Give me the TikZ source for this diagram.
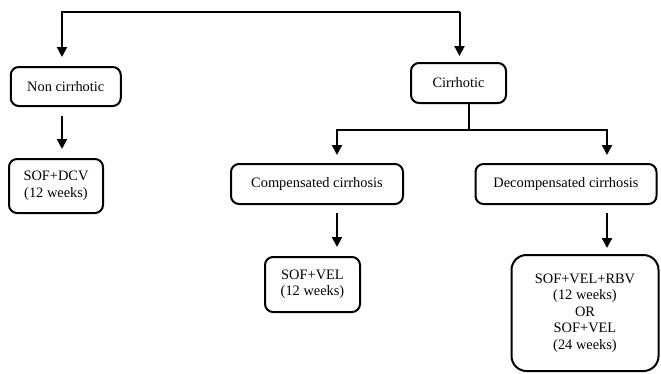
\documentclass[tikz,border=0pt]{standalone}
\usepackage{fontspec}
\setmainfont{Liberation Serif}
\usetikzlibrary{arrows.meta}
\begin{document}
\begin{tikzpicture}[x=1pt,y=-1pt,
  box/.style={draw,line width=2pt,rounded corners=8pt,align=center,inner sep=0pt,
    font=\fontsize{14.4}{16.5}\selectfont},
  conn/.style={line width=2pt},
  arr/.style={conn,-{Triangle[length=10pt,width=10pt]}}]
\useasboundingbox (0,0) rectangle (661,373);
\node[box,minimum width=110pt,minimum height=39pt] (non) at (65.75,86.5) {Non cirrhotic};
\node[box,minimum width=94pt,minimum height=54pt] (sofdcv) at (56,186) {SOF+DCV\\(12 weeks)};
\node[box,minimum width=95pt,minimum height=40pt] (cir) at (458.5,83) {Cirrhotic};
\node[box,minimum width=172pt,minimum height=40pt] (comp) at (317,184) {Compensated cirrhosis};
\node[box,minimum width=181pt,minimum height=40pt] (decomp) at (566,184) {Decompensated cirrhosis};
\node[box,minimum width=95pt,minimum height=55pt] (sofvel) at (312.5,284.5) {SOF+VEL\\(12 weeks)};
\node[box,rounded corners=15pt,minimum width=147pt,minimum height=116pt] (combo) at (585,313) {SOF+VEL+RBV\\(12 weeks)\\OR\\SOF+VEL\\(24 weeks)};
\coordinate (tl) at (62,12);
\coordinate (tr) at (459.5,12);
\coordinate (bl) at (337,130);
\coordinate (br) at (607,130);
\coordinate (bm) at (469,130);
\draw[arr,shorten >=9pt] (tr) -- (tl) -- (tl |- non.north);
\draw[arr,shorten >=6pt] (tr) -- (tr |- cir.north);
\draw[arr,shorten <=9pt,shorten >=9pt] (tl |- non.south) -- (tl |- sofdcv.north);
\draw[conn] (bm |- cir.south) -- (bm);
\draw[arr,shorten >=8pt] (br) -- (bl) -- (bl |- comp.north);
\draw[arr,shorten >=8pt] (bm) -- (br) -- (br |- decomp.north);
\draw[arr,shorten <=8pt,shorten >=9pt] (bl |- comp.south) -- (bl |- sofvel.north);
\draw[arr,shorten <=8pt,shorten >=6pt] (br |- decomp.south) -- (br |- combo.north);
\end{tikzpicture}
\end{document}
